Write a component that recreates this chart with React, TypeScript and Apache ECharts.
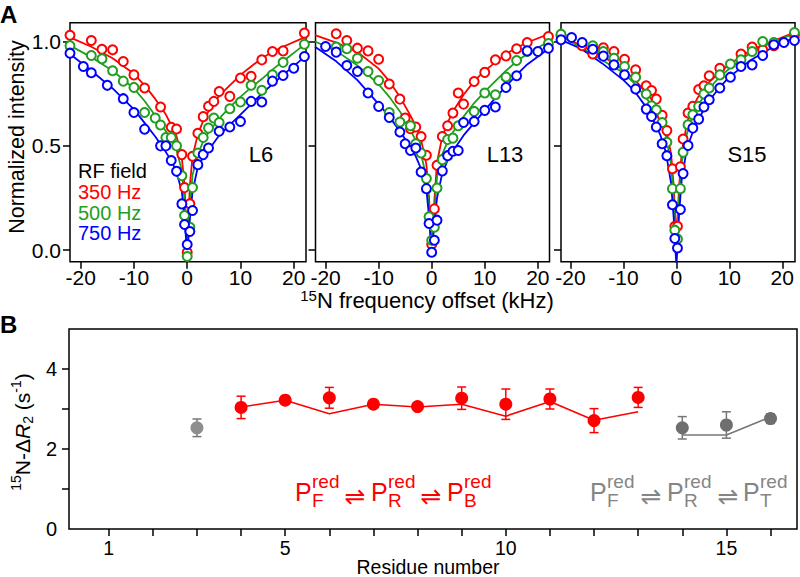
import React, { useEffect, useRef } from 'react';
import * as echarts from 'echarts';

const FONT = '"Liberation Sans", Arial, Helvetica, sans-serif';
const RED = '#ff0000';
const GREEN = '#1f9e1f';
const BLUE = '#0000ff';
const GRAY = '#858585';

// ---------- Panel A ----------
const offsetTicks = [-20, -10, 0, 10, 20];
const intensityTicks = [0, 0.5, 1.0];
const rfFields = ['350 Hz', '500 Hz', '750 Hz'];
const panelNames = ['L6', 'L13', 'S15'];

// offsets (kHz) at which the fitted curves are listed
const fitOffsets = [-22, -18, -14, -10, -8, -6, -4, -3, -2, -1, -0.5, 0, 0.5, 1, 2, 3, 4, 6, 8, 10, 12, 14, 16, 18, 22];

// L6 measured points [offset kHz, normalized intensity]
const l6Red: [number, number][] = [[-22, 1.03], [-18, 1.005], [-16, 0.963], [-14, 0.96], [-12, 0.904], [-10, 0.84], [-8, 0.777], [-5, 0.686], [-3, 0.589], [-2, 0.581], [-1, 0.458], [-0.5, 0.30], [0, -0.01], [0.5, 0.223], [1, 0.45], [2, 0.56], [3, 0.64], [4, 0.69], [5, 0.713], [6, 0.76], [8, 0.737], [10, 0.825], [12, 0.833], [14, 0.912], [16, 0.952], [18, 0.955], [22, 1.04]];
const l6Green: [number, number][] = [[-22, 0.98], [-18, 0.933], [-16, 0.917], [-14, 0.86], [-12, 0.81], [-10, 0.78], [-8, 0.66], [-6, 0.633], [-5, 0.60], [-4, 0.54], [-3, 0.54], [-2, 0.50], [-1, 0.357], [-0.5, 0.166], [0, -0.03], [0.5, 0.11], [1, 0.30], [2, 0.466], [3, 0.54], [4, 0.585], [5, 0.633], [6, 0.612], [8, 0.678], [10, 0.71], [12, 0.79], [14, 0.766], [16, 0.84], [18, 0.90], [22, 0.987]];
const l6Blue: [number, number][] = [[-22, 0.944], [-19.5, 0.88], [-18, 0.85], [-15, 0.79], [-12, 0.726], [-10, 0.66], [-8, 0.58], [-5, 0.50], [-4, 0.50], [-3, 0.43], [-2, 0.378], [-1, 0.222], [-0.5, 0.123], [0, 0.027], [0.5, 0.09], [1, 0.19], [2, 0.41], [3, 0.458], [4, 0.49], [6, 0.57], [8, 0.59], [10, 0.617], [12, 0.713], [14, 0.71], [16, 0.81], [18, 0.837], [20, 0.872], [22, 0.928]];
const l6RedFit = [1.02, 0.975, 0.92, 0.845, 0.79, 0.725, 0.65, 0.60, 0.545, 0.44, 0.31, -0.02, 0.31, 0.45, 0.555, 0.62, 0.665, 0.74, 0.79, 0.84, 0.88, 0.92, 0.95, 0.975, 1.02];
const l6GreenFit = [0.98, 0.925, 0.86, 0.775, 0.715, 0.645, 0.57, 0.53, 0.48, 0.38, 0.24, -0.02, 0.22, 0.36, 0.46, 0.52, 0.565, 0.63, 0.685, 0.735, 0.78, 0.82, 0.865, 0.905, 0.985];
const l6BlueFit = [0.94, 0.86, 0.775, 0.675, 0.61, 0.545, 0.47, 0.43, 0.375, 0.28, 0.15, -0.02, 0.15, 0.28, 0.40, 0.445, 0.48, 0.55, 0.60, 0.65, 0.70, 0.75, 0.795, 0.84, 0.925];

// L13
const l13Red: [number, number][] = [[-22, 1.027], [-18, 1.037], [-16, 1.005], [-14, 0.968], [-12, 0.955], [-10, 0.915], [-8, 0.796], [-6, 0.724], [-5, 0.633], [-4, 0.582], [-3, 0.59], [-2, 0.545], [-1, 0.455], [0, 0.027], [0.5, 0.198], [1, 0.407], [2, 0.545], [3, 0.596], [4, 0.657], [5, 0.753], [6, 0.70], [8, 0.808], [10, 0.852], [12, 0.912], [14, 0.931], [16, 0.965], [18, 0.995], [22, 1.024]];
const l13Green: [number, number][] = [[-22, 0.99], [-18, 0.973], [-16, 0.965], [-14, 0.92], [-12, 0.856], [-10, 0.813], [-8, 0.66], [-6, 0.614], [-4, 0.596], [-3, 0.51], [-2, 0.466], [-1, 0.343], [-0.5, 0.16], [0, 0.048], [0.5, 0.11], [1, 0.298], [2, 0.434], [3, 0.53], [4, 0.537], [5, 0.596], [8, 0.665], [10, 0.753], [12, 0.745], [14, 0.83], [16, 0.909], [18, 0.952], [22, 0.99]];
const l13Blue: [number, number][] = [[-22, 0.96], [-20, 0.976], [-18, 0.949], [-16, 0.885], [-14, 0.856], [-12, 0.753], [-10, 0.689], [-8, 0.636], [-6, 0.566], [-5, 0.51], [-4, 0.478], [-3, 0.49], [-2, 0.375], [-1, 0.295], [-0.5, 0.128], [0, -0.01], [0.5, 0.048], [1, 0.144], [2, 0.38], [3, 0.453], [4, 0.474], [5, 0.478], [6, 0.612], [8, 0.617], [10, 0.67], [12, 0.686], [14, 0.78], [16, 0.836], [18, 0.955], [20, 0.952], [22, 0.968]];
const l13RedFit = [1.03, 0.995, 0.95, 0.87, 0.81, 0.735, 0.645, 0.595, 0.53, 0.41, 0.25, -0.02, 0.24, 0.42, 0.545, 0.61, 0.665, 0.745, 0.81, 0.86, 0.9, 0.94, 0.97, 0.995, 1.035];
const l13GreenFit = [1.0, 0.955, 0.885, 0.795, 0.735, 0.665, 0.575, 0.525, 0.46, 0.35, 0.2, -0.02, 0.19, 0.35, 0.46, 0.52, 0.565, 0.64, 0.705, 0.76, 0.81, 0.86, 0.905, 0.94, 1.0];
const l13BlueFit = [0.975, 0.905, 0.815, 0.70, 0.64, 0.57, 0.495, 0.45, 0.39, 0.29, 0.16, -0.02, 0.13, 0.25, 0.37, 0.43, 0.475, 0.55, 0.61, 0.67, 0.73, 0.785, 0.84, 0.89, 0.965];

// S15
const s15Red: [number, number][] = [[-21.8, 1.027], [-17.8, 0.98], [-15.8, 0.94], [-13.8, 0.97], [-11.8, 0.952], [-9.8, 0.915], [-7.7, 0.864], [-5.7, 0.788], [-4.7, 0.765], [-3.8, 0.724], [-2.7, 0.646], [-1.8, 0.573], [-0.75, 0.39], [-0.3, 0.115], [0.2, 0.115], [0.75, 0.40], [1.26, 0.533], [2.2, 0.657], [3.1, 0.69], [4.2, 0.77], [5.2, 0.788], [6.2, 0.836], [8.2, 0.872], [12.2, 0.94], [14.3, 0.973], [16.3, 0.96], [18.4, 0.98], [22.3, 1.03]];
const s15Green: [number, number][] = [[-21.8, 1.035], [-15.8, 0.979], [-13.8, 0.952], [-11.8, 0.92], [-9.8, 0.88], [-7.7, 0.829], [-5.7, 0.748], [-4.7, 0.692], [-3.8, 0.673], [-2.7, 0.612], [-1.8, 0.517], [-0.75, 0.295], [-0.3, 0.096], [0.2, 0.054], [0.75, 0.295], [1.26, 0.469], [2.2, 0.601], [3.1, 0.649], [4.2, 0.689], [5.2, 0.748], [6.2, 0.777], [8.2, 0.84], [10.2, 0.892], [12.2, 0.912], [14.3, 0.952], [16.3, 1.0], [18.4, 0.995], [22.3, 1.043]];
const s15Blue: [number, number][] = [[-21.8, 1.008], [-19.8, 1.019], [-17.8, 0.995], [-15.8, 0.963], [-13.8, 0.93], [-11.8, 0.888], [-9.8, 0.84], [-7.7, 0.772], [-5.7, 0.676], [-4.7, 0.641], [-3.8, 0.59], [-2.7, 0.51], [-1.8, 0.453], [-0.75, 0.218], [-0.3, 0.056], [0.2, 0.011], [0.75, 0.195], [1.26, 0.367], [2.2, 0.502], [3.1, 0.585], [4.2, 0.628], [5.2, 0.686], [6.2, 0.721], [8.2, 0.777], [10.2, 0.829], [12.2, 0.88], [14.3, 0.888], [16.3, 0.933], [18.4, 0.984], [20.3, 0.995], [22.3, 1.005]];
const s15RedFit = [1.03, 0.98, 0.93, 0.865, 0.82, 0.765, 0.70, 0.655, 0.59, 0.46, 0.30, 0.05, 0.30, 0.47, 0.61, 0.68, 0.73, 0.80, 0.85, 0.89, 0.925, 0.955, 0.98, 1.0, 1.04];
const s15GreenFit = [1.03, 0.97, 0.91, 0.85, 0.80, 0.74, 0.67, 0.625, 0.55, 0.41, 0.24, 0.02, 0.25, 0.42, 0.56, 0.635, 0.69, 0.77, 0.825, 0.87, 0.91, 0.945, 0.97, 0.995, 1.035];
const s15BlueFit = [1.01, 0.965, 0.895, 0.815, 0.765, 0.695, 0.605, 0.55, 0.47, 0.32, 0.15, -0.08, 0.17, 0.34, 0.49, 0.56, 0.62, 0.71, 0.775, 0.83, 0.87, 0.91, 0.94, 0.97, 1.015];

// ---------- Panel B ----------
const residueTicks = [1, 2, 3, 4, 5, 6, 7, 8, 9, 10, 11, 12, 13, 14, 15, 16];
const residueLabels = [1, 5, 10, 15];
const r2Ticks = [1, 2, 3, 4];
const r2Labels = [0, 2, 4];

const redResidues = [4, 5, 6, 7, 8, 9, 10, 11, 12, 13];
const redR2 = [3.04, 3.22, 3.28, 3.12, 3.06, 3.27, 3.12, 3.25, 2.71, 3.29];
const redErr = [0.28, 0.08, 0.26, 0.08, 0.08, 0.28, 0.38, 0.25, 0.3, 0.25];
const redFit = [3.05, 3.22, 2.88, 3.12, 3.05, 3.12, 2.82, 3.19, 2.72, 2.93];

const grayResidues = [3, 14, 15, 16];
const grayR2 = [2.53, 2.53, 2.6, 2.76];
const grayErr = [0.22, 0.28, 0.33, 0.12];
const grayFitResidues = [14, 15, 16];
const grayFit = [2.35, 2.35, 2.8];

const COLORS = [RED, GREEN, BLUE];

export default function App() {
  const ref = useRef<HTMLDivElement>(null);

  useEffect(() => {
    if (!ref.current) return;
    const chart = echarts.init(ref.current, null, { renderer: 'svg' });

    const panels = [
      { pts: [l6Red, l6Green, l6Blue], fits: [l6RedFit, l6GreenFit, l6BlueFit], xMin: -22, xMax: 22.3, left: 70, width: 236 },
      { pts: [l13Red, l13Green, l13Blue], fits: [l13RedFit, l13GreenFit, l13BlueFit], xMin: -21.9, xMax: 22.2, left: 315.5, width: 234 },
      { pts: [s15Red, s15Green, s15Blue], fits: [s15RedFit, s15GreenFit, s15BlueFit], xMin: -21.8, xMax: 22.4, left: 561, width: 234 },
    ];

    const tickStyle = { color: '#000', width: 1.5 };
    const labelStyle = { color: '#000', fontFamily: FONT, fontSize: 21 };
    const noLine = { show: false, onZero: false };

    const grid: any[] = panels.map((p) => ({
      left: p.left, top: 22.7, width: p.width, height: 239,
      show: true, borderColor: '#000', borderWidth: 1.5, backgroundColor: 'transparent',
    }));
    grid.push({ left: 69, top: 329, width: 728, height: 200, show: true, borderColor: '#000', borderWidth: 1.5, backgroundColor: 'transparent' });

    const xAxis: any[] = panels.map((p, i) => ({
      gridIndex: i, type: 'value', min: p.xMin, max: p.xMax, position: 'bottom',
      axisLine: noLine,
      splitLine: { show: false },
      axisTick: { show: true, customValues: offsetTicks, length: 7, inside: false, lineStyle: tickStyle },
      axisLabel: { ...labelStyle, customValues: offsetTicks, margin: 5, formatter: (v: number) => String(v) },
    }));
    xAxis.push({
      gridIndex: 3, type: 'value', min: 0.1, max: 16.6, position: 'bottom',
      axisLine: noLine, splitLine: { show: false },
      axisTick: { show: true, customValues: residueTicks, length: 7, lineStyle: tickStyle },
      axisLabel: { ...labelStyle, fontSize: 19.5, customValues: residueLabels, margin: 9, formatter: (v: number) => String(v) },
    });

    const yAxis: any[] = panels.map((p, i) => ({
      gridIndex: i, type: 'value', min: -0.055, max: 1.09, position: 'left',
      axisLine: noLine, splitLine: { show: false },
      axisTick: { show: true, customValues: intensityTicks, length: 7, lineStyle: tickStyle },
      axisLabel: { ...labelStyle, show: i === 0, customValues: intensityTicks, margin: 9, formatter: (v: number) => v.toFixed(1) },
    }));
    yAxis.push({
      gridIndex: 3, type: 'value', min: 0, max: 5, position: 'left',
      axisLine: noLine, splitLine: { show: false },
      axisTick: { show: true, customValues: r2Ticks, length: 7, lineStyle: tickStyle },
      axisLabel: { ...labelStyle, fontSize: 20, customValues: r2Labels, margin: 12, formatter: (v: number) => String(v) },
    });

    const series: any[] = [];
    panels.forEach((p, i) => {
      p.fits.forEach((f, c) => {
        series.push({
          type: 'line', xAxisIndex: i, yAxisIndex: i, showSymbol: false, symbol: 'none',
          data: fitOffsets.map((x, k) => [x, f[k]]),
          lineStyle: { color: COLORS[c], width: 1.8 }, z: 2, silent: true,
        });
      });
    });
    panels.forEach((p, i) => {
      p.pts.forEach((pts, c) => {
        series.push({
          type: 'scatter', xAxisIndex: i, yAxisIndex: i, symbol: 'emptyCircle', symbolSize: 9,
          data: pts,
          itemStyle: { color: COLORS[c], borderWidth: 1.7, opacity: 1 }, z: 3, silent: true,
        });
      });
    });

    const errBar = (color: string) => (params: any, api: any) => {
      const x = api.value(0);
      const lo = api.coord([x, api.value(1)]);
      const hi = api.coord([x, api.value(2)]);
      const w = 4.5;
      const st = { stroke: color, lineWidth: 1.5 };
      return {
        type: 'group',
        children: [
          { type: 'line', shape: { x1: lo[0], y1: lo[1], x2: hi[0], y2: hi[1] }, style: st },
          { type: 'line', shape: { x1: hi[0] - w, y1: hi[1], x2: hi[0] + w, y2: hi[1] }, style: st },
          { type: 'line', shape: { x1: lo[0] - w, y1: lo[1], x2: lo[0] + w, y2: lo[1] }, style: st },
        ],
      };
    };

    series.push({
      type: 'line', xAxisIndex: 3, yAxisIndex: 3, showSymbol: false, symbol: 'none',
      data: redResidues.map((r, k) => [r, redFit[k]]), lineStyle: { color: RED, width: 1.6 }, z: 2, silent: true,
    });
    series.push({
      type: 'line', xAxisIndex: 3, yAxisIndex: 3, showSymbol: false, symbol: 'none',
      data: grayFitResidues.map((r, k) => [r, grayFit[k]]), lineStyle: { color: '#777', width: 1.6 }, z: 2, silent: true,
    });
    series.push({
      type: 'custom', xAxisIndex: 3, yAxisIndex: 3, renderItem: errBar(RED),
      encode: { x: 0, y: [1, 2] },
      data: redResidues.map((r, k) => [r, redR2[k] - redErr[k], redR2[k] + redErr[k]]), z: 3, silent: true,
    });
    series.push({
      type: 'custom', xAxisIndex: 3, yAxisIndex: 3, renderItem: errBar('#777'),
      encode: { x: 0, y: [1, 2] },
      data: grayResidues.map((r, k) => [r, grayR2[k] - grayErr[k], grayR2[k] + grayErr[k]]), z: 3, silent: true,
    });
    series.push({
      type: 'scatter', xAxisIndex: 3, yAxisIndex: 3, symbol: 'circle', symbolSize: 13,
      data: redResidues.map((r, k) => [r, redR2[k]]), itemStyle: { color: RED, opacity: 1 }, z: 4, silent: true,
    });
    series.push({
      type: 'scatter', xAxisIndex: 3, yAxisIndex: 3, symbol: 'circle', symbolSize: 13,
      data: grayResidues.map((r, k) => [r, grayR2[k]]),
      itemStyle: { color: (p: any) => (p.dataIndex === 0 ? '#8e8e8e' : '#6f6f6f'), opacity: 1 }, z: 4, silent: true,
    });

    const txt = (text: string, x: number, y: number, size: number, fill: string, align = 'left', extra: any = {}) => ({
      type: 'text', silent: true,
      style: { text, x, y, fontSize: size, fontFamily: FONT, fill, align, verticalAlign: 'middle', ...extra },
    });

    const graphic: any[] = [
      txt('A', 0, 14, 24, '#000', 'left', { fontWeight: 'bold' }),
      txt('B', 0, 324, 24, '#000', 'left', { fontWeight: 'bold' }),
      txt('RF field', 78, 171, 20, '#000'),
      ...rfFields.map((t, k) => txt(t, 78, 192 + k * 20.5, 20, COLORS[k])),
      txt(panelNames[0], 261, 154, 22, '#000', 'center'),
      txt(panelNames[1], 505, 154, 22, '#000', 'center'),
      txt(panelNames[2], 747, 154, 22, '#000', 'center'),
      {
        type: 'text', silent: true, x: 17, y: 137, rotation: Math.PI / 2,
        style: { text: 'Normalized intensity', fontSize: 21.5, fontFamily: FONT, fill: '#000', align: 'center', verticalAlign: 'middle' },
      },
      {
        type: 'text', silent: true,
        style: {
          text: '{sup|15}N frequency offset (kHz)', x: 427, y: 300, fontSize: 22, fontFamily: FONT, fill: '#000',
          align: 'center', verticalAlign: 'middle', lineHeight: 24,
          rich: { sup: { fontSize: 15, lineHeight: 15, verticalAlign: 'top', fontFamily: FONT, fill: '#000' } },
        },
      },
      txt('Residue number', 428, 566.5, 19.5, '#000', 'center'),
      {
        type: 'text', silent: true, x: 22, y: 432, rotation: Math.PI / 2,
        style: {
          text: '{sup|15}N-Δ{it|R}{sub|2} (s{sup|-1})', fontSize: 21, fontFamily: FONT, fill: '#000',
          align: 'center', verticalAlign: 'middle', lineHeight: 26,
          rich: {
            sup: { fontSize: 14, lineHeight: 14, verticalAlign: 'top', fontFamily: FONT, fill: '#000' },
            sub: { fontSize: 14, lineHeight: 14, verticalAlign: 'bottom', fontFamily: FONT, fill: '#000' },
            it: { fontSize: 21, lineHeight: 26, fontStyle: 'italic', fontFamily: FONT, fill: '#000' },
          },
        },
      },
    ];

    const pState = (x0: number, sub: string, color: string) => [
      txt('P', x0, 492, 25, color),
      txt('red', x0 + 17, 481, 19, color),
      txt(sub, x0 + 17, 500, 19, color),
    ];
    const eq = (cx: number, color: string) => txt('⇌', cx, 496, 25, color, 'center', { fontFamily: '"DejaVu Sans", sans-serif' });

    graphic.push(...pState(295, 'F', RED), eq(355, RED), ...pState(371, 'R', RED), eq(431, RED), ...pState(447, 'B', RED));
    graphic.push(...pState(590, 'F', GRAY), eq(651, GRAY), ...pState(667, 'R', GRAY), eq(728, GRAY), ...pState(743, 'T', GRAY));

    chart.setOption({
      animation: false,
      backgroundColor: '#fff',
      grid, xAxis, yAxis, series, graphic,
    });

    return () => chart.dispose();
  }, []);

  return <div ref={ref} style={{ position: 'fixed', left: 0, top: 0, width: 800, height: 577 }} />;
}
